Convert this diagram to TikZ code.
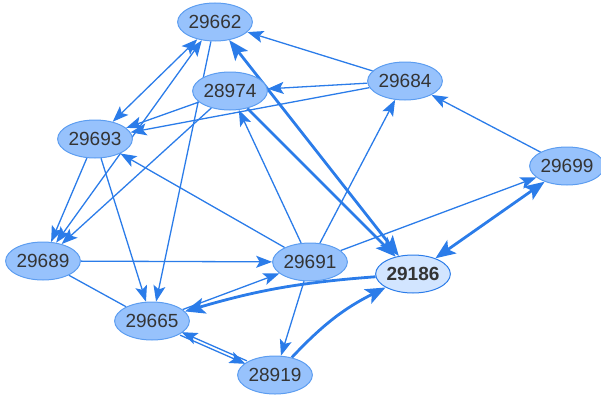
\documentclass[tikz,border=0pt]{standalone}
\usepackage{fontspec}
\setmainfont{Liberation Sans}
\usetikzlibrary{shapes.geometric,arrows.meta}
\definecolor{edgeblue}{HTML}{2B7CE9}
\definecolor{nodeborder}{HTML}{5C9DF0}
\definecolor{nodefill}{HTML}{97C2FC}
\definecolor{hlfill}{HTML}{D2E5FF}
\definecolor{textgray}{HTML}{343434}
\pgfdeclarelayer{bg}
\pgfsetlayers{bg,main}
\tikzset{
  nd/.style={ellipse, draw=nodeborder, line width=1pt, fill=nodefill,
    minimum width=72pt, minimum height=38pt, inner sep=0pt,
    font=\fontsize{19}{21}\selectfont, text=textgray},
  hl/.style={nd, fill=hlfill, draw=edgeblue, font=\fontsize{19}{21}\selectfont\bfseries},
  thintip/.tip={Stealth[length=16pt,width=12pt,inset=3.5pt]},
  thicktip/.tip={Stealth[length=20pt,width=16pt,inset=4.5pt]},
  en/.style={draw=edgeblue, line width=1.3pt},
  ea/.style={en, -thintip},
  eb/.style={en, thintip-thintip},
  ta/.style={draw=edgeblue, line width=2.8pt, -thicktip},
  tb/.style={draw=edgeblue, line width=2.8pt, thicktip-thicktip},
}
\begin{document}
\begin{tikzpicture}[x=1pt,y=-1pt]
\useasboundingbox (0,0) rectangle (601,396);
\node[nd] (n29662) at (215,22) {29662};
\node[nd] (n28974) at (230,91) {28974};
\node[nd] (n29684) at (405,81) {29684};
\node[nd] (n29693) at (95,139) {29693};
\node[nd, minimum width=70pt] (n29699) at (567,166) {29699};
\node[nd] (n29689) at (43,261) {29689};
\node[nd] (n29691) at (310,262) {29691};
\node[hl] (n29186) at (413,274) {29186};
\node[nd] (n29665) at (152,321) {29665};
\node[nd] (n28919) at (275,375) {28919};
\begin{pgfonlayer}{bg}
\draw[ea] (n29684) -- (n29662);
\draw[ea] (n29684) -- (n28974);
\draw[ea] (n29684) -- (n29693);
\draw[ea] (n28974) -- (n29693);
\draw[ea] (n28974) -- (n29689);
\draw[ea] (n29691) -- (n28974);
\draw[ta] (n28974) -- (n29186);
\draw[tb] (n29662) -- (n29186);
\draw[eb] (n29693) -- (n29662);
\draw[eb] (n29689) -- (n29662);
\draw[ea] (n29662) -- (n29665);
\draw[ea] (n29693) -- (n29689);
\draw[ea] (n29693) -- (n29665);
\draw[ea] (n29691) -- (n29693);
\draw[ea] (n29689) -- (n29691);
\draw[en] (n29689) -- (n29665);
\draw[ea] (n29665) -- (n29691);
\draw[ta] (n29186) to[bend right=6] (n29665);
\draw[ea, transform canvas={shift={(0.7pt,1.5pt)}}] (n28919) -- (n29665);
\draw[ea, transform canvas={shift={(-0.7pt,-1.5pt)}}] (n29665) -- (n28919);
\draw[ea] (n29691) -- (n29684);
\draw[ea] (n29691) -- (n29699);
\draw[ea] (n29691) -- (n28919);
\draw[ea] (n29699) -- (n29684);
\draw[tb] (n29699) -- (n29186);
\draw[ta] (n28919) to[bend left=10] (n29186);
\end{pgfonlayer}
\end{tikzpicture}
\end{document}
